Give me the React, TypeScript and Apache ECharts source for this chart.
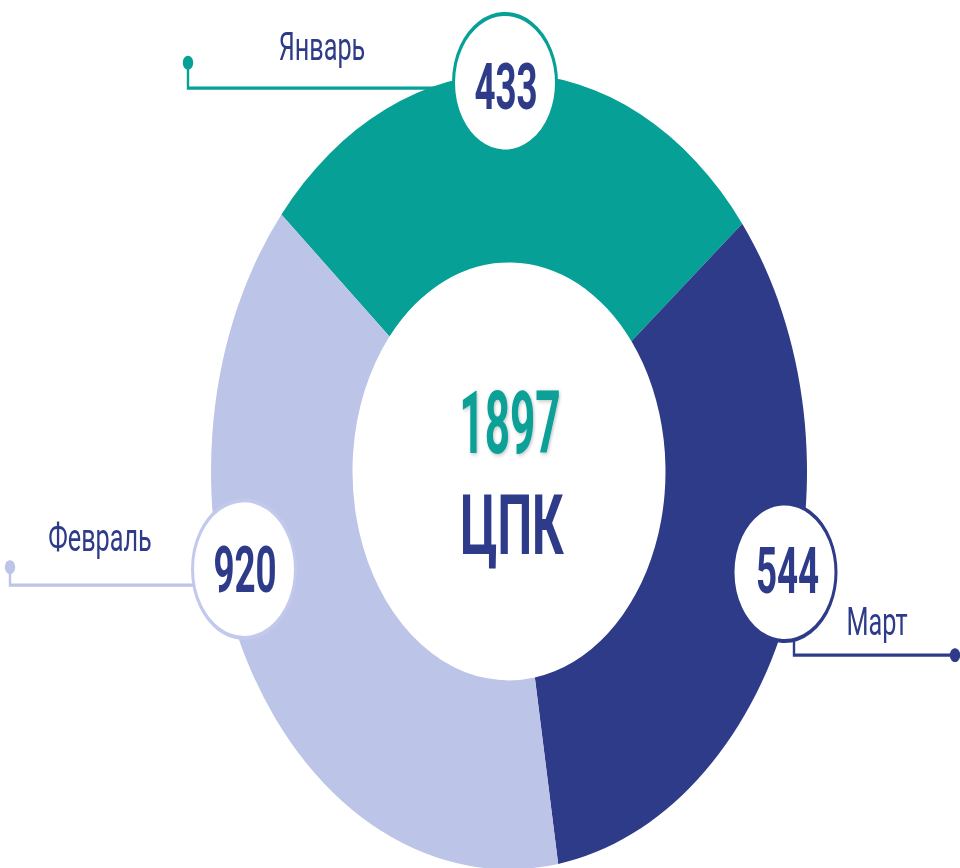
import React, { useEffect, useRef } from "react";
import * as echarts from "echarts";

// Months shown on the ring, in clockwise drawing order starting top-left
const months = ["Январь", "Март", "Февраль"];
// Values printed in the bubbles
const monthValues = [433, 544, 920];
// Arc share of each ring segment as drawn in the picture (degrees)
const segmentArcs = [101.3, 119, 139.7];
const segmentColors = ["#07a097", "#2e3b88", "#bcc4e8"];
const bubbleBorders = ["#07a097", "#2e3b88", "#c3c9ec"];
const totalValue = 1897;
const centerCaption = "ЦПК";

const W = 960;
const H0 = 650; // unstretched height
const STRETCH = 868 / H0;

export default function App() {
  const ref = useRef<HTMLDivElement>(null);
  useEffect(() => {
    if (!ref.current) return;
    const chart = echarts.init(ref.current, null, { renderer: "svg", width: W, height: H0 });
    const navy = "#2e3b88";
    const font = "Roboto, 'Noto Sans', sans-serif";

    // bubble layout (label placement) per month index
    const bubbles = [
      { cx: 505, cy: 62, nx: 506, ny: 64.8 },
      { cx: 784.5, cy: 428.5, nx: 787.5, ny: 427.7 },
      { cx: 244, cy: 426.2, nx: 245, ny: 427 },
    ];
    const leaders = [
      { pts: [[188, 47], [188, 66], [452, 66]], dot: [188, 47], lx: 322, ly: 34.8 },
      { pts: [[794, 478], [794, 490.6], [955, 490.6]], dot: [955, 490.6], lx: 877, ly: 466 },
      { pts: [[10, 424.7], [10, 438.2], [195, 438.2]], dot: [10, 424.7], lx: 100, ly: 403 },
    ];

    const graphics: any[] = [];
    months.forEach((m, i) => {
      const b = bubbles[i];
      const l = leaders[i];
      graphics.push({
        type: "polyline",
        z: 100,
        shape: { points: l.pts },
        style: { stroke: segmentColors[i], lineWidth: 2.4, fill: "none" },
      });
      graphics.push({
        type: "circle",
        z: 101,
        shape: { cx: l.dot[0], cy: l.dot[1], r: 5.2 },
        style: { fill: segmentColors[i] },
      });
      graphics.push({
        type: "text",
        z: 102,
        x: l.lx,
        y: l.ly,
        scaleX: 0.87,
        style: {
          text: m,
          align: "center",
          verticalAlign: "middle",
          fill: navy,
          font: `normal 29px ${font}`,
        },
      });
      graphics.push({
        type: "circle",
        z: 103,
        shape: { cx: b.cx, cy: b.cy, r: 51.5 },
        style: { fill: "#ffffff", stroke: bubbleBorders[i], lineWidth: 3 },
      });
      graphics.push({
        type: "text",
        z: 104,
        x: b.nx,
        y: b.ny,
        scaleX: 0.75,
        style: {
          text: String(monthValues[i]),
          align: "center",
          verticalAlign: "middle",
          fill: navy,
          font: `bold 49px ${font}`,
        },
      });
    });

    graphics.push({
      type: "text",
      z: 104,
      x: 510,
      y: 317,
      scaleX: 0.68,
      style: {
        text: String(totalValue),
        align: "center",
        verticalAlign: "middle",
        fill: "#07a097",
        font: `bold 65px ${font}`,
        textShadowColor: "rgba(0,0,0,0.25)",
        textShadowBlur: 3,
        textShadowOffsetX: 1,
        textShadowOffsetY: 1,
      },
    });
    graphics.push({
      type: "text",
      z: 104,
      x: 512,
      y: 393.6,
      scaleX: 0.79,
      style: {
        text: centerCaption,
        align: "center",
        verticalAlign: "middle",
        fill: navy,
        font: `bold 62px ${font}`,
      },
    });

    chart.setOption({
      animation: false,
      backgroundColor: "#ffffff",
      series: [
        {
          type: "pie",
          silent: true,
          center: [509, 353],
          radius: [156.5, 298],
          startAngle: 139.8,
          clockwise: true,
          label: { show: false },
          labelLine: { show: false },
          itemStyle: { borderWidth: 0 },
          data: months.map((m, i) => ({
            name: m,
            value: segmentArcs[i],
            itemStyle: { color: segmentColors[i] },
          })),
        },
      ],
      graphic: graphics,
    });
    return () => chart.dispose();
  }, []);

  return (
    <div
      style={{
        position: "fixed",
        left: 0,
        top: 0,
        width: W,
        height: 868,
        overflow: "hidden",
        background: "#ffffff",
      }}
    >
      <div
        ref={ref}
        style={{
          width: W,
          height: H0,
          transform: `scaleY(${STRETCH})`,
          transformOrigin: "0 0",
        }}
      />
    </div>
  );
}
